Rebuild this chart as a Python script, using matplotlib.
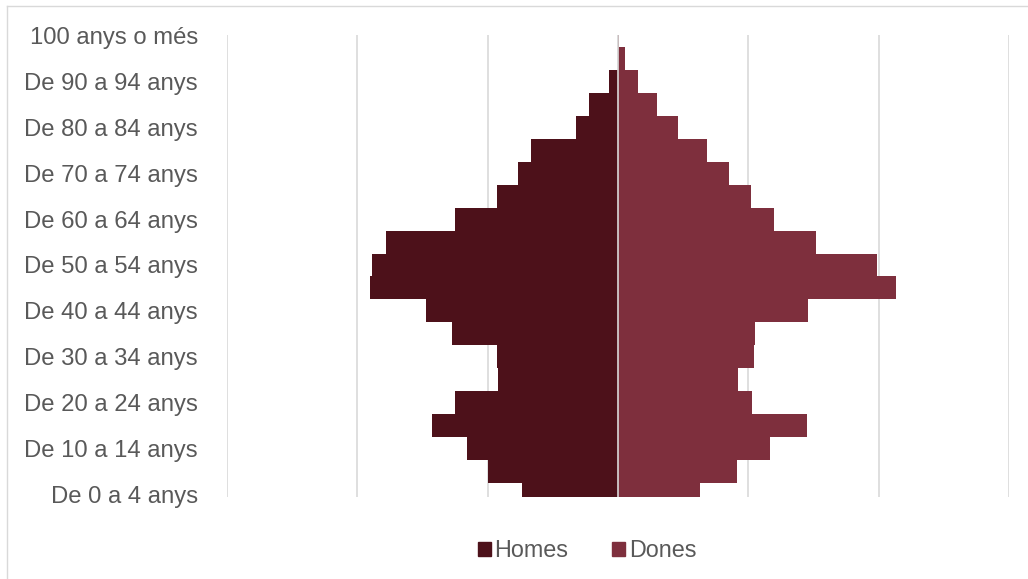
import matplotlib.pyplot as plt
from matplotlib.lines import Line2D

plt.rcParams['font.family'] = ['Liberation Sans', 'DejaVu Sans']

# age groups, youngest first
groups = ["De 0 a 4 anys", "De 5 a 9 anys", "De 10 a 14 anys", "De 15 a 19 anys",
          "De 20 a 24 anys", "De 25 a 29 anys", "De 30 a 34 anys", "De 35 a 39 anys",
          "De 40 a 44 anys", "De 45 a 49 anys", "De 50 a 54 anys", "De 55 a 59 anys",
          "De 60 a 64 anys", "De 65 a 69 anys", "De 70 a 74 anys", "De 75 a 79 anys",
          "De 80 a 84 anys", "De 85 a 89 anys", "De 90 a 94 anys", "De 95 a 99 anys",
          "100 anys o més"]

# share of population (gridline = 1 unit)
homes = [0.74, 1.00, 1.16, 1.43, 1.25, 0.92, 0.93, 1.27, 1.47, 1.90, 1.89,
         1.78, 1.25, 0.93, 0.77, 0.67, 0.32, 0.22, 0.07, 0.0, 0.0]
dones = [0.63, 0.91, 1.17, 1.45, 1.03, 0.92, 1.04, 1.05, 1.46, 2.13, 1.99,
         1.52, 1.20, 1.02, 0.85, 0.68, 0.46, 0.30, 0.15, 0.05, 0.01]

c_homes = "#4d111a"
c_dones = "#7e2f3d"
txt = "#595959"

fig = plt.figure(figsize=(10.28, 5.79), dpi=100)
ax = fig.add_axes([227 / 1028, 82 / 579, 782 / 1028, 462 / 579])

y = list(range(len(groups)))
ax.barh(y, [-v for v in homes], height=1.0, color=c_homes, linewidth=0, zorder=2)
ax.barh(y, dones, height=1.0, color=c_dones, linewidth=0, zorder=2)
ax.axvline(0, color="#d9d9d9", lw=1.2, zorder=3)

ax.set_xlim(-3, 3)
ax.set_ylim(-0.13, 20.04)
ax.set_xticks([-3, -2, -1, 0, 1, 2, 3])
ax.set_xticklabels([])
ax.grid(axis="x", color="#d9d9d9", lw=1.2, zorder=0)
ax.set_yticks(y[::2])
ax.set_yticklabels(groups[::2], fontsize=17.2, color=txt)
ax.tick_params(length=0, pad=21)
for s in ax.spines.values():
    s.set_visible(False)

handles = [plt.Rectangle((0, 0), 1, 1, color=c_homes),
           plt.Rectangle((0, 0), 1, 1, color=c_dones)]
fig.legend(handles, ["Homes", "Dones"], loc="center", bbox_to_anchor=(0.571, 0.049),
           ncol=2, frameon=False, fontsize=16.8, labelcolor=txt,
           handlelength=0.55, handleheight=0.55, handletextpad=0.15, columnspacing=1.9)

# chart frame (only top and left edges are visible in the crop)
fig.add_artist(Line2D([7 / 1028, 7 / 1028], [0, 1 - 6 / 579], color="#d9d9d9", lw=1))
fig.add_artist(Line2D([7 / 1028, 1], [1 - 6 / 579, 1 - 6 / 579], color="#d9d9d9", lw=1))

fig.savefig("out.png", dpi=100)
